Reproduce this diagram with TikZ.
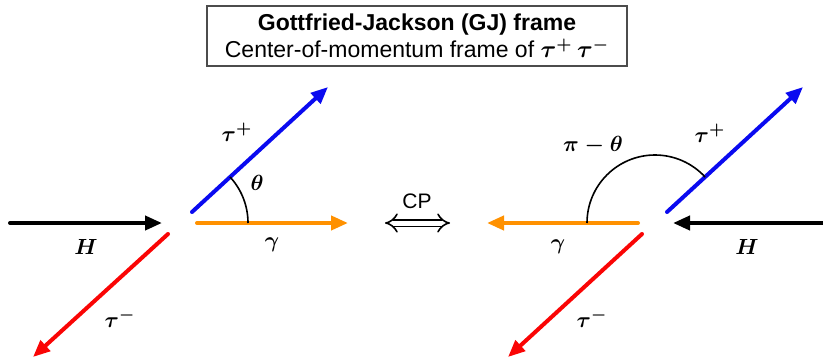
\documentclass[tikz,border=0pt]{standalone}
\usepackage{amsmath, amssymb}
\usepackage{fontspec}
\setmainfont{Liberation Sans}
\usepackage{xcolor}
\usepackage{tikz}
\usetikzlibrary{arrows.meta, positioning}

\definecolor{taup}{RGB}{10,10,240}
\definecolor{taum}{RGB}{250,5,5}
\definecolor{phot}{RGB}{255,145,0}

\tikzset{
  mom/.style={line width=2pt, line cap=round, -{Triangle[length=8.5pt,width=7pt]}},
  lbl/.style={font=\fontsize{11}{13}\selectfont},
}

\begin{document}
\begin{tikzpicture}[x=0.5pt, y=0.5pt]
    \useasboundingbox (0,0) rectangle (823,360);

    % title box
    \node[draw=black!70, line width=0.8pt, minimum width=210pt, minimum height=30pt,
          align=center, font=\fontsize{11.5}{13.5}\selectfont] (title) at (417,324)
        {\textbf{Gottfried-Jackson (GJ) frame}\\Center-of-momentum frame of $\boldsymbol{\tau^+\,\tau^-}$};

    % left frame
    \coordinate (OL) at (180,137);
    \coordinate (HLa) at (10,137);
    \coordinate (HLb) at (162,137);
    \coordinate (TPLa) at (192,148);
    \coordinate (TPLb) at (328,273);
    \coordinate (GLa) at (197,137);
    \coordinate (GLb) at (348,137);
    \coordinate (TMLa) at (168,126);
    \coordinate (TMLb) at (33,3);

    \draw[mom, black] (HLa) -- (HLb);
    \draw[mom, taup] (TPLa) -- (TPLb);
    \draw[mom, phot] (GLa) -- (GLb);
    \draw[mom, taum] (TMLa) -- (TMLb);
    \draw[line width=0.8pt] (OL) ++(0:68) arc (0:42.6:68);

    \node[lbl] (HL) at (86,113) {$\boldsymbol{H}$};
    \node[lbl] (tpL) at (237,228) {$\boldsymbol{\tau^+}$};
    \node[lbl] (gL) at (272,115) {$\boldsymbol{\gamma}$};
    \node[lbl] (tmL) at (120,42) {$\boldsymbol{\tau^-}$};
    \node[lbl] (thL) at (257,177) {$\boldsymbol{\theta}$};

    % CP
    \coordinate (CPa) at (385,137);
    \coordinate (CPb) at (450,137);
    \draw[double, double distance=2.5pt, line width=0.8pt, {Implies}-{Implies}] (CPa) -- (CPb);
    \node[font=\fontsize{10.5}{12}\selectfont] (cp) at (417,159) {CP};

    % right frame
    \coordinate (OR) at (655,137);
    \coordinate (HRa) at (823,137);
    \coordinate (HRb) at (673,137);
    \coordinate (TPRa) at (667,148);
    \coordinate (TPRb) at (803,273);
    \coordinate (GRa) at (638,137);
    \coordinate (GRb) at (487,137);
    \coordinate (TMRa) at (642,126);
    \coordinate (TMRb) at (508,3);

    \draw[mom, black] (HRa) -- (HRb);
    \draw[mom, taup] (TPRa) -- (TPRb);
    \draw[mom, phot] (GRa) -- (GRb);
    \draw[mom, taum] (TMRa) -- (TMRb);
    \draw[line width=0.8pt] (OR) ++(180:68) arc (180:42.6:68);

    \node[lbl] (HR) at (747,113) {$\boldsymbol{H}$};
    \node[lbl] (tpR) at (710,227) {$\boldsymbol{\tau^+}$};
    \node[lbl] (gR) at (558,113) {$\boldsymbol{\gamma}$};
    \node[lbl] (tmR) at (592,42) {$\boldsymbol{\tau^-}$};
    \node[lbl] (thR) at (593,215) {$\boldsymbol{\pi-\theta}$};

\end{tikzpicture}
\end{document}
